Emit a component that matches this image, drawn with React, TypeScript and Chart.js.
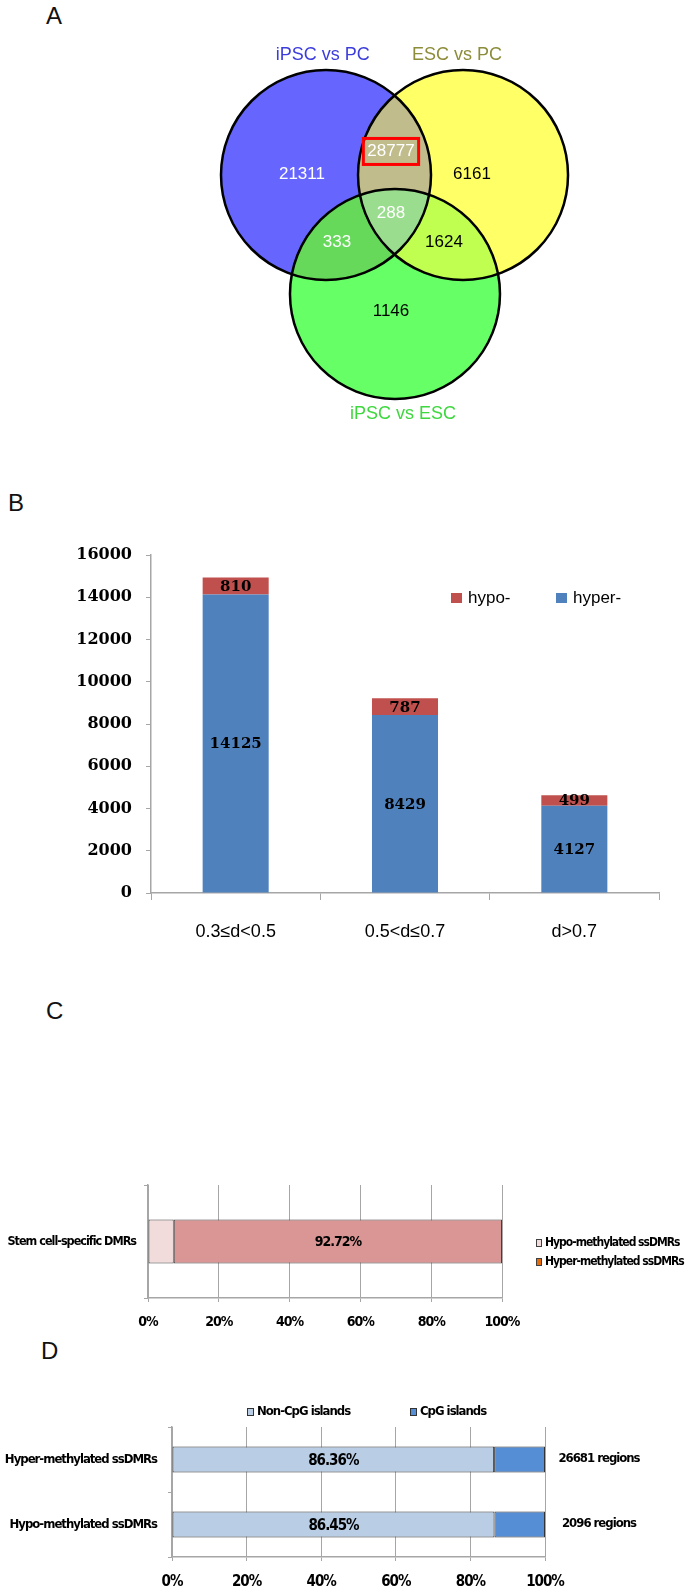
import React, { useEffect, useRef } from 'react';
import { Chart, registerables } from 'chart.js';

Chart.register(...registerables);

// ---------- Panel A: Venn diagram ----------
const vennSetNames = ['iPSC vs PC', 'ESC vs PC', 'iPSC vs ESC'];
const vennRadius = 1;
const vennCenters = [
  { x: 0, y: 0 },
  { x: 1.305, y: 0 },
  { x: 0.657, y: -1.133 },
];
// regions: iPSC-only, iPSC∩ESC(vsPC), ESC-only, iPSC∩iPSCvsESC, all three, ESC∩iPSCvsESC, iPSCvsESC-only
const vennRegionCounts = [21311, 28777, 6161, 333, 288, 1624, 1146];
const vennRegionAnchors = [
  { x: -0.229, y: 0.01 },
  { x: 0.619, y: 0.229 },
  { x: 1.39, y: 0.01 },
  { x: 0.105, y: -0.638 },
  { x: 0.619, y: -0.362 },
  { x: 1.124, y: -0.638 },
  { x: 0.619, y: -1.295 },
];
const vennNameAnchors = [
  { x: -0.03, y: 1.143 },
  { x: 1.248, y: 1.143 },
  { x: 0.733, y: -2.276 },
];

// ---------- Panel B ----------
const bCategories = ['0.3≤d<0.5', '0.5<d≤0.7', 'd>0.7'];
const bHyper = [14125, 8429, 4127];
const bHypo = [810, 787, 499];
const bSeriesNames = ['hyper-', 'hypo-'];

// ---------- Panel C ----------
const cCategories = ['Stem cell-specific DMRs'];
const cHypo = [7.28];
const cHyper = [92.72];
const cSeriesNames = ['Hypo-methylated ssDMRs', 'Hyper-methylated ssDMRs'];

// ---------- Panel D ----------
const dCategories = ['Hyper-methylated ssDMRs', 'Hypo-methylated ssDMRs'];
const dNonCpG = [86.36, 86.45];
const dCpG = [13.64, 13.55];
const dRegionCounts = [26681, 2096];
const dSeriesNames = ['Non-CpG islands', 'CpG islands'];

const NARROW = "'Liberation Sans Narrow', 'Arial Narrow', 'DejaVu Sans Condensed', 'Liberation Sans', sans-serif";
const SANS = "'Liberation Sans', Arial, sans-serif";
const SERIF = "'DejaVu Serif', 'Liberation Serif', serif";

// ---------- plugins ----------
const vennPlugin = {
  id: 'venn',
  afterDatasetsDraw(chart: any) {
    const { ctx, scales } = chart;
    const xs = scales.x, ys = scales.y;
    const centers = chart.getDatasetMeta(0).data;
    const cs = centers.map((p: any, i: number) => {
      const c = vennCenters[i];
      return {
        cx: p.x,
        cy: p.y,
        rx: Math.abs(xs.getPixelForValue(c.x + vennRadius) - p.x),
        ry: Math.abs(ys.getPixelForValue(c.y + vennRadius) - p.y),
      };
    });
    const path = (c: any) => {
      ctx.beginPath();
      ctx.ellipse(c.cx, c.cy, c.rx, c.ry, 0, 0, Math.PI * 2);
    };
    const fills = ['#6666FF', '#FFFF66', '#66FF66'];
    const pairFills: [number, number, string][] = [
      [0, 1, '#C1BC8B'],
      [0, 2, '#66D95A'],
      [1, 2, '#C0FF50'],
    ];
    ctx.save();
    cs.forEach((c: any, i: number) => {
      path(c);
      ctx.fillStyle = fills[i];
      ctx.fill();
    });
    pairFills.forEach(([i, j, col]) => {
      ctx.save();
      path(cs[i]);
      ctx.clip();
      path(cs[j]);
      ctx.fillStyle = col;
      ctx.fill();
      ctx.restore();
    });
    ctx.save();
    path(cs[0]);
    ctx.clip();
    path(cs[1]);
    ctx.clip();
    path(cs[2]);
    ctx.fillStyle = '#9ADD8E';
    ctx.fill();
    ctx.restore();
    ctx.lineWidth = 2.5;
    ctx.strokeStyle = '#000';
    cs.forEach((c: any) => {
      path(c);
      ctx.stroke();
    });

    // set names
    const nameColors = ['#3C3CDC', '#8C8C3A', '#3ED83E'];
    ctx.font = `18px ${SANS}`;
    ctx.textAlign = 'center';
    ctx.textBaseline = 'middle';
    chart.getDatasetMeta(2).data.forEach((p: any, i: number) => {
      ctx.fillStyle = nameColors[i];
      ctx.fillText(vennSetNames[i], p.x, p.y);
    });

    // region counts
    const countColors = ['#fff', '#fff', '#000', '#fff', '#fff', '#000', '#000'];
    ctx.font = `17px ${SANS}`;
    chart.getDatasetMeta(1).data.forEach((p: any, i: number) => {
      const t = String(vennRegionCounts[i]);
      ctx.fillStyle = countColors[i];
      ctx.fillText(t, p.x, p.y);
      if (i === 1) {
        const w = ctx.measureText(t).width;
        ctx.strokeStyle = '#FF0000';
        ctx.lineWidth = 3;
        ctx.strokeRect(p.x - w / 2 - 4, p.y - 12.5, w + 8, 26);
      }
    });
    ctx.restore();
  },
};

const barValueLabels = {
  id: 'barValueLabels',
  afterDatasetsDraw(chart: any, _args: any, opts: any) {
    const { ctx } = chart;
    ctx.save();
    ctx.textAlign = 'center';
    ctx.textBaseline = 'middle';
    ctx.fillStyle = '#000';
    ctx.font = opts.font;
    chart.data.datasets.forEach((ds: any, di: number) => {
      if (opts.skip && opts.skip.includes(di)) return;
      const meta = chart.getDatasetMeta(di);
      meta.data.forEach((el: any, i: number) => {
        const v = ds.data[i];
        const txt = opts.suffix ? v.toFixed(2) + opts.suffix : String(v);
        const c = el.getCenterPoint();
        ctx.fillText(txt, c.x, c.y + (opts.dy || 0));
      });
    });
    ctx.restore();
  },
};

const boxLegend = {
  id: 'boxLegend',
  afterDraw(chart: any, _args: any, opts: any) {
    if (!opts.items) return;
    const { ctx } = chart;
    ctx.save();
    ctx.font = opts.font;
    ctx.textBaseline = 'middle';
    ctx.textAlign = 'left';
    opts.items.forEach((it: any) => {
      ctx.fillStyle = it.color;
      ctx.fillRect(it.x, it.y - it.h / 2, it.w, it.h);
      if (it.border) {
        ctx.strokeStyle = it.border;
        ctx.lineWidth = 1;
        ctx.strokeRect(it.x + 0.5, it.y - it.h / 2 + 0.5, it.w - 1, it.h - 1);
      }
      ctx.fillStyle = '#000';
      ctx.fillText(it.text, it.x + it.w + opts.gap, it.y);
    });
    ctx.restore();
  },
};

const sideLabels = {
  id: 'sideLabels',
  afterDatasetsDraw(chart: any, _args: any, opts: any) {
    if (!opts.texts) return;
    const { ctx, chartArea } = chart;
    const meta = chart.getDatasetMeta(0);
    ctx.save();
    ctx.font = opts.font;
    ctx.fillStyle = '#000';
    ctx.textAlign = 'center';
    ctx.textBaseline = 'middle';
    meta.data.forEach((el: any, i: number) => {
      ctx.fillText(opts.texts[i], chartArea.right + opts.offset, el.y + (opts.dy || 0));
    });
    ctx.restore();
  },
};

// tighter letter spacing for the condensed Office-style text
const tightText = {
  id: 'tightText',
  beforeDraw(chart: any, _args: any, opts: any) {
    if (opts && opts.spacing) (chart.ctx as any).letterSpacing = opts.spacing;
  },
};

// ---------- geometry of canvases (page pixels) ----------
const A_BOX = { left: 170, top: 30, width: 400, height: 400 };
const B_BOX = { left: 0, top: 490, width: 694, height: 470 };
const C_BOX = { left: 0, top: 1150, width: 694, height: 190 };
const D_BOX = { left: 0, top: 1395, width: 694, height: 197 };

const GRAY = '#A6A6A6';

function makeVenn() {
  const unit = 105;
  const blueX = 326 - A_BOX.left;
  const blueY = 175 - A_BOX.top;
  return {
    type: 'scatter',
    data: {
      datasets: [
        { data: vennCenters, pointRadius: 0 },
        { data: vennRegionAnchors, pointRadius: 0 },
        { data: vennNameAnchors, pointRadius: 0 },
      ],
    },
    options: {
      animation: false,
      responsive: false,
      events: [],
      layout: { padding: 0 },
      plugins: { legend: { display: false }, tooltip: { enabled: false } },
      scales: {
        x: { display: false, min: -blueX / unit, max: (A_BOX.width - blueX) / unit },
        y: { display: false, min: -(A_BOX.height - blueY) / unit, max: blueY / unit },
      },
    },
    plugins: [vennPlugin],
  };
}

function makeB() {
  const areaTop = 555, areaBottom = 893, axisX = 151, areaRight = 659;
  const tickFont = { family: SERIF, size: 16, weight: 'bold' as const };
  return {
    type: 'bar',
    data: {
      labels: bCategories,
      datasets: [
        { label: bSeriesNames[0], data: bHyper, backgroundColor: '#4F81BD' },
        { label: bSeriesNames[1], data: bHypo, backgroundColor: '#C0504D' },
      ],
    },
    options: {
      animation: false,
      responsive: false,
      events: [],
      layout: { padding: { top: areaTop - B_BOX.top, right: B_BOX.width - areaRight, left: 0, bottom: 0 } },
      datasets: { bar: { categoryPercentage: 1, barPercentage: 0.39 } },
      plugins: {
        legend: { display: false },
        tooltip: { enabled: false },
        barValueLabels: { font: `bold 15px ${SERIF}`, dy: 1 },
        boxLegend: {
          font: `17px ${SANS}`,
          gap: 6,
          items: [
            { text: bSeriesNames[1], color: '#C0504D', x: 451, y: 598 - B_BOX.top, w: 11, h: 10 },
            { text: bSeriesNames[0], color: '#4F81BD', x: 556, y: 598 - B_BOX.top, w: 11, h: 10 },
          ],
        },
      },
      scales: {
        x: {
          stacked: true,
          grid: { display: true, drawOnChartArea: false, offset: true, tickLength: 7, color: GRAY },
          border: { color: GRAY, width: 1.5 },
          ticks: { font: { family: SANS, size: 18 }, color: '#000', padding: 21 },
          afterFit: (s: any) => { s.height = B_BOX.top + B_BOX.height - areaBottom; },
        },
        y: {
          stacked: true,
          min: 0,
          max: 16000,
          ticks: { stepSize: 2000, font: tickFont, color: '#000', padding: 14, callback: (v: any) => String(v) },
          grid: { display: true, drawOnChartArea: false, tickLength: 5, color: GRAY },
          border: { color: GRAY, width: 1.5 },
          afterFit: (s: any) => { s.width = axisX - B_BOX.left; },
        },
      },
    },
    plugins: [barValueLabels, boxLegend],
  };
}

function makeC() {
  const areaTop = 1185, areaBottom = 1298, axisX = 148, areaRight = 502;
  return {
    type: 'bar',
    data: {
      labels: cCategories,
      datasets: [
        { label: cSeriesNames[0], data: cHypo, backgroundColor: '#F2DCDB', borderColor: '#404040', borderWidth: 1, borderSkipped: false },
        { label: cSeriesNames[1], data: cHyper, backgroundColor: '#D99694', borderColor: '#404040', borderWidth: 1, borderSkipped: false },
      ],
    },
    options: {
      indexAxis: 'y',
      animation: false,
      responsive: false,
      events: [],
      layout: { padding: { top: areaTop - C_BOX.top, right: C_BOX.width - areaRight, left: 0, bottom: 0 } },
      datasets: { bar: { categoryPercentage: 1, barPercentage: 0.39 } },
      plugins: {
        legend: { display: false },
        tooltip: { enabled: false },
        tightText: { spacing: '-1px' },
        barValueLabels: { font: `bold 14px ${NARROW}`, suffix: '%', skip: [0], dy: 1 },
        boxLegend: {
          font: `bold 12px ${NARROW}`,
          gap: 3,
          items: [
            { text: cSeriesNames[0], color: '#F2DCDB', border: '#404040', x: 536, y: 1243 - C_BOX.top, w: 6, h: 8 },
            { text: cSeriesNames[1], color: '#E46C0A', border: '#404040', x: 536, y: 1262 - C_BOX.top, w: 6, h: 8 },
          ],
        },
      },
      scales: {
        x: {
          stacked: true,
          min: 0,
          max: 100,
          ticks: { stepSize: 20, callback: (v: any) => v + '%', font: { family: NARROW, size: 14, weight: 'bold' }, color: '#000', padding: 12 },
          grid: { color: GRAY, tickLength: 4 },
          border: { color: GRAY, width: 1.5 },
          afterFit: (s: any) => { s.height = C_BOX.top + C_BOX.height - areaBottom; },
        },
        y: {
          stacked: true,
          grid: { display: true, drawOnChartArea: false, offset: true, tickLength: 4, color: GRAY },
          border: { color: GRAY, width: 1.5 },
          ticks: { font: { family: NARROW, size: 12.5, weight: 'bold' }, color: '#000', padding: 8 },
          afterFit: (s: any) => { s.width = axisX - C_BOX.left; },
        },
      },
    },
    plugins: [tightText, barValueLabels, boxLegend],
  };
}

function makeD() {
  const areaTop = 1427, areaBottom = 1557, axisX = 172, areaRight = 545;
  return {
    type: 'bar',
    data: {
      labels: dCategories,
      datasets: [
        { label: dSeriesNames[0], data: dNonCpG, backgroundColor: '#B9CDE5', borderColor: '#333333', borderWidth: 1, borderSkipped: false },
        { label: dSeriesNames[1], data: dCpG, backgroundColor: '#558ED5', borderColor: '#333333', borderWidth: 1, borderSkipped: false },
      ],
    },
    options: {
      indexAxis: 'y',
      animation: false,
      responsive: false,
      events: [],
      layout: { padding: { top: areaTop - D_BOX.top, right: D_BOX.width - areaRight, left: 0, bottom: 0 } },
      datasets: { bar: { categoryPercentage: 1, barPercentage: 0.4 } },
      plugins: {
        legend: { display: false },
        tooltip: { enabled: false },
        tightText: { spacing: '-1px' },
        barValueLabels: { font: `bold 15px ${NARROW}`, suffix: '%', skip: [1], dy: 2 },
        sideLabels: {
          font: `bold 13px ${NARROW}`,
          offset: 54,
          dy: -1,
          texts: dRegionCounts.map((n) => `${n} regions`),
        },
        boxLegend: {
          font: `bold 13px ${NARROW}`,
          gap: 3,
          items: [
            { text: dSeriesNames[0], color: '#B9CDE5', border: '#333333', x: 247, y: 1412 - D_BOX.top, w: 7, h: 8 },
            { text: dSeriesNames[1], color: '#558ED5', border: '#333333', x: 410, y: 1412 - D_BOX.top, w: 7, h: 8 },
          ],
        },
      },
      scales: {
        x: {
          stacked: true,
          min: 0,
          max: 100,
          ticks: { stepSize: 20, callback: (v: any) => v + '%', font: { family: NARROW, size: 15, weight: 'bold' }, color: '#000', padding: 12 },
          grid: { color: GRAY, tickLength: 4 },
          border: { color: GRAY, width: 1.5 },
          afterFit: (s: any) => { s.height = D_BOX.top + D_BOX.height - areaBottom; },
        },
        y: {
          stacked: true,
          grid: { display: true, drawOnChartArea: false, offset: true, tickLength: 4, color: GRAY },
          border: { color: GRAY, width: 1.5 },
          ticks: { font: { family: NARROW, size: 13, weight: 'bold' }, color: '#000', padding: 11 },
          afterFit: (s: any) => { s.width = axisX - D_BOX.left; },
        },
      },
    },
    plugins: [tightText, barValueLabels, sideLabels, boxLegend],
  };
}

function ChartCanvas({ box, make }: { box: any; make: () => any }) {
  const ref = useRef<HTMLCanvasElement>(null);
  useEffect(() => {
    const chart = new Chart(ref.current as HTMLCanvasElement, make() as any);
    return () => chart.destroy();
  }, []);
  return (
    <canvas
      ref={ref}
      width={box.width}
      height={box.height}
      style={{ position: 'absolute', left: box.left, top: box.top, width: box.width, height: box.height }}
    />
  );
}

function PanelLetter({ text, x, y }: { text: string; x: number; y: number }) {
  return (
    <div
      style={{
        position: 'absolute',
        left: x,
        top: y - 14,
        fontFamily: SANS,
        fontSize: 24,
        lineHeight: '28px',
        color: '#111',
        fontWeight: 300,
      }}
    >
      {text}
    </div>
  );
}

export default function App() {
  return (
    <div style={{ position: 'absolute', left: 0, top: 0, width: 694, height: 1592, background: '#fff', overflow: 'hidden' }}>
      <PanelLetter text="A" x={46} y={16} />
      <PanelLetter text="B" x={8} y={503} />
      <PanelLetter text="C" x={46} y={1011} />
      <PanelLetter text="D" x={41} y={1351} />
      <ChartCanvas box={A_BOX} make={makeVenn} />
      <ChartCanvas box={B_BOX} make={makeB} />
      <ChartCanvas box={C_BOX} make={makeC} />
      <ChartCanvas box={D_BOX} make={makeD} />
    </div>
  );
}
